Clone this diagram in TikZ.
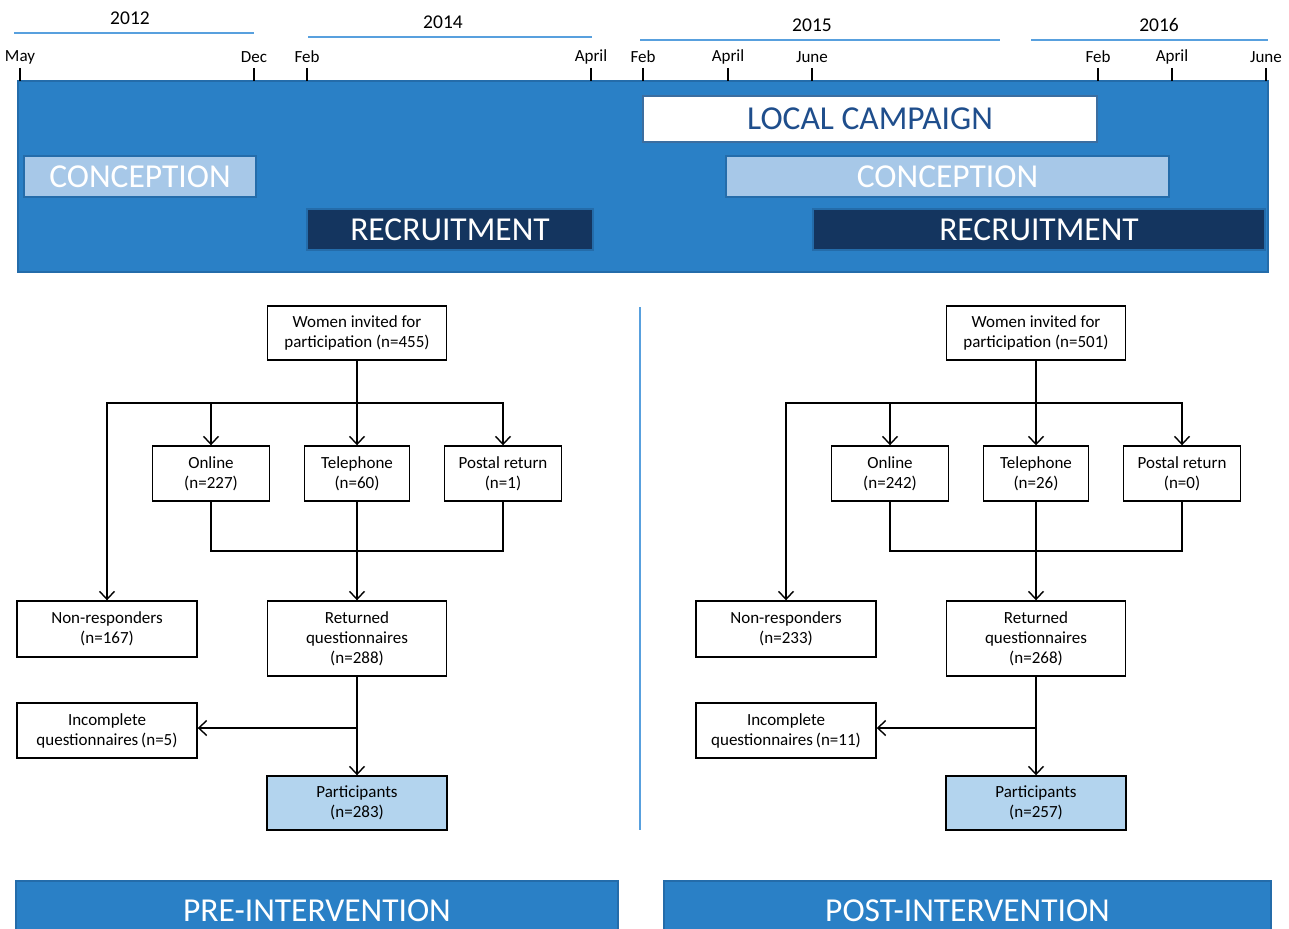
\documentclass[tikz,border=0pt]{standalone}
\usepackage{fontspec}
\setmainfont{Carlito}
\usetikzlibrary{arrows.meta}
\definecolor{mainblue}{RGB}{42,128,198}
\definecolor{mainframe}{RGB}{36,108,170}
\definecolor{concblue}{RGB}{167,200,232}
\definecolor{navy}{RGB}{20,53,95}
\definecolor{campaigntext}{RGB}{31,78,140}
\definecolor{partblue}{RGB}{179,212,238}
\definecolor{yearline}{RGB}{88,160,222}
\tikzset{
	flowbox/.style={draw, line width=1.4pt, align=center, inner sep=2pt, minimum height=55pt, font=\fontsize{17}{20}\selectfont},
	flowline/.style={line width=1.4pt},
	flowarrow/.style={line width=1.4pt, -{Straight Barb[length=8pt, width=15pt, line width=1.4pt]}},
	phasebar/.style={draw=mainframe, line width=2.5pt, inner sep=0pt, minimum height=41pt, text=white, font=\fontsize{33.5}{38}\selectfont},
	monthlabel/.style={inner sep=0pt, font=\fontsize{17}{20}\selectfont},
	yearlabel/.style={inner sep=0pt, font=\fontsize{19.5}{22}\selectfont}
}
\newcommand{\monthtick}[3] % name, x in px, label
{
	\node[monthlabel] (#1) at (#2,57) {#3};
	% tick onto the time bar
	\draw[line width=1.8pt] (#2,68) -- (#2,81);
}
\newcommand{\yearspan}[6] % name, label, x of label, start, end, y of line
{
	\node[yearlabel] (#1) at (#3,{#6-15}) {#2};
	\draw[yearline, line width=2pt] (#4,#6) -- (#5,#6);
}
\newcommand{\flowchart}[8] % invited, online, telephone, postal, non-responders, returned, incomplete, participants
{
	% boxes
	\node[flowbox, minimum width=179pt, minimum height=54pt] (invited) at (357,333) {Women invited for\\participation (n=#1)};
	\node[flowbox, minimum width=117pt] (online) at (211,473.5) {Online\\(n=#2)};
	\node[flowbox, minimum width=105pt] (phone) at (357,473.5) {Telephone\\(n=#3)};
	\node[flowbox, minimum width=117pt] (postal) at (503,473.5) {Postal return\\(n=#4)};
	\node[flowbox, minimum width=180pt, minimum height=56pt] (nonresp) at (107,629) {Non-responders\\(n=#5)};
	\node[flowbox, minimum width=179pt, minimum height=75pt] (returned) at (357,638.5) {Returned\\questionnaires\\(n=#6)};
	\node[flowbox, minimum width=180pt] (incomplete) at (107,730.5) {Incomplete\\questionnaires\,(n=#7)};
	\node[flowbox, fill=partblue, minimum width=180pt, minimum height=54pt] (participants) at (357,803) {Participants\\(n=#8)};
	% connectors
	\coordinate (fork) at (357,403);
	\coordinate (join) at (357,551);
	\coordinate (branch) at (357,728);
	\draw[flowline] (invited) -- (fork);
	\draw[flowarrow] (fork) -| (nonresp);
	\draw[flowarrow] (fork) -| (online);
	\draw[flowarrow] (fork) -- (phone);
	\draw[flowarrow] (fork) -| (postal);
	\draw[flowline] (online) |- (join);
	\draw[flowline] (postal) |- (join);
	\draw[flowline] (phone) -- (join);
	\draw[flowarrow] (join) -- (returned);
	\draw[flowline] (returned) -- (branch);
	\draw[flowarrow] (branch) -- (branch -| incomplete.east);
	\draw[flowarrow] (branch) -- (participants);
}

\begin{document}
\begin{tikzpicture}[x=1pt, y=-1pt]
	\useasboundingbox (0,0) rectangle (1289,928);
	% years
	\yearspan{y2012}{2012}{130}{14}{254}{33};
	\yearspan{y2014}{2014}{443}{308}{592}{37};
	\yearspan{y2015}{2015}{812}{640}{1000}{40};
	\yearspan{y2016}{2016}{1159}{1031}{1268}{40};
	% time bar
	\draw[mainframe, fill=mainblue, line width=1.5pt] (18,81) rectangle (1268,272);
	\monthtick{may12}{20}{May};
	\monthtick{dec12}{254}{Dec};
	\monthtick{feb14}{307}{Feb};
	\monthtick{apr14}{591}{April};
	\monthtick{feb15}{643}{Feb};
	\monthtick{apr15}{728}{April};
	\monthtick{jun15}{812}{June};
	\monthtick{feb16}{1098}{Feb};
	\monthtick{apr16}{1172}{April};
	\monthtick{jun16}{1266}{June};
	% phases
	\node[phasebar, fill=white, draw={rgb,255:red,60;green,110;blue,160}, line width=1.5pt, text=campaigntext, minimum width=454pt, minimum height=46pt] (campaign) at (870,119) {LOCAL CAMPAIGN};
	\node[phasebar, fill=concblue, minimum width=232pt] (concpre) at (140,176.5) {CONCEPTION};
	\node[phasebar, fill=concblue, minimum width=443pt] (concpost) at (947.5,176.5) {CONCEPTION};
	\node[phasebar, fill=navy, minimum width=286pt] (recrpre) at (450,229.5) {RECRUITMENT};
	\node[phasebar, fill=navy, minimum width=452pt] (recrpost) at (1039,229.5) {RECRUITMENT};
	% flowcharts
	\begin{scope}[name prefix=pre-]
		\flowchart{455}{227}{60}{1}{167}{288}{5}{283}
	\end{scope}
	\begin{scope}[xshift=679pt, name prefix=post-]
		\flowchart{501}{242}{26}{0}{233}{268}{11}{257}
	\end{scope}
	\draw[yearline, line width=1.5pt] (640,307) -- (640,830);
	% periods
	\node[phasebar, fill=mainblue, minimum width=602pt, minimum height=60pt] (prebar) at (317,911) {PRE-INTERVENTION};
	\node[phasebar, fill=mainblue, minimum width=607pt, minimum height=60pt] (postbar) at (967.5,911) {POST-INTERVENTION};
\end{tikzpicture}
\end{document}
